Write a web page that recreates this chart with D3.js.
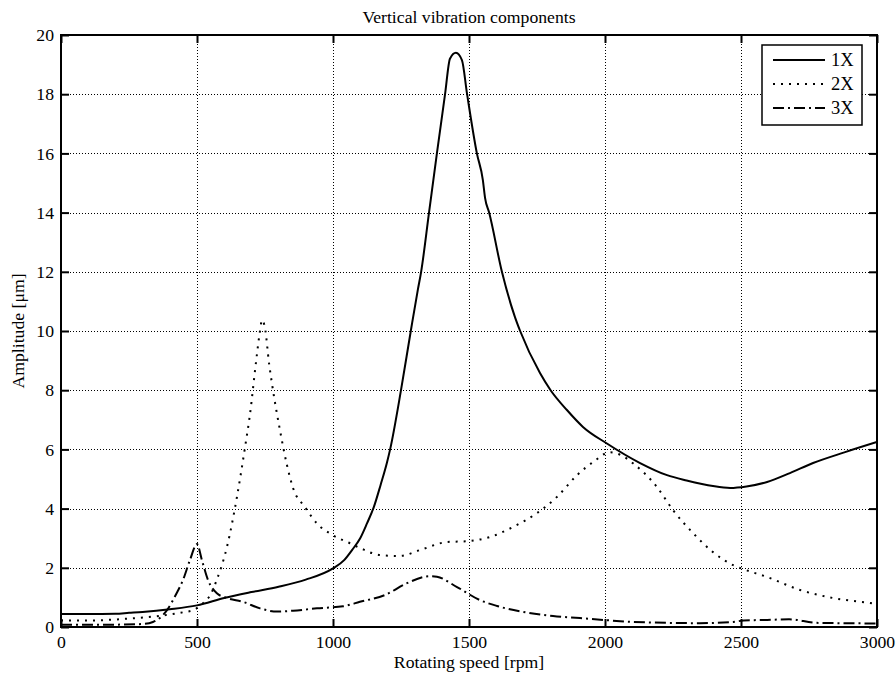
<!DOCTYPE html>
<html>
<head>
<meta charset="utf-8">
<script src="https://cdn.jsdelivr.net/npm/d3@7"></script>
<style>
  html, body { margin: 0; padding: 0; background: #fff; }
  svg { display: block; }
  text { font-family: "Liberation Serif", "Times New Roman", serif; fill: #000; }
</style>
</head>
<body>
<svg id="chart" width="896" height="677"></svg>
<script>
// ---- data ----
const rpm1X = [0,100,200,250,300,400,500,600,700,800,900,1000,1040,1070,1100,1125,1150,1175,1198,1210,1250,1286,1312,1324,1353,1382,1412,1430,1452,1474,1493,1529,1551,1559,1574,1621,1669,1688,1761,1800,1860,1919,2007,2129,2228,2300,2397,2460,2520,2596,2680,2765,2880,3000];
const amp1X = [0.44,0.44,0.45,0.48,0.51,0.6,0.73,0.98,1.18,1.36,1.6,1.98,2.25,2.6,3.0,3.5,4.05,4.8,5.54,6.0,8.0,10.0,11.4,12.0,14.0,16.0,18.0,19.2,19.4,19.15,18.0,16.0,15.1,14.5,14.0,12.0,10.47,10.0,8.58,8.0,7.33,6.76,6.2,5.54,5.13,4.95,4.76,4.7,4.75,4.9,5.2,5.54,5.9,6.25];

const rpm2X = [0,100,242,364,450,486,522,550,573,610,647,677,695,715,730,739,750,765,776,805,830,853,897,941,1000,1062,1099,1173,1246,1320,1419,1496,1577,1662,1750,1824,1897,1956,2018,2060,2103,2191,2250,2324,2397,2471,2507,2596,2717,2838,2985,3000];
const amp2X = [0.22,0.22,0.28,0.38,0.5,0.57,0.8,1.1,1.6,2.7,4.4,6.1,7.2,8.8,9.9,10.37,10.1,8.9,8.2,6.65,5.5,4.7,4.05,3.5,3.1,2.83,2.67,2.43,2.4,2.6,2.87,2.9,3.04,3.38,3.85,4.4,5.13,5.57,5.9,5.8,5.53,4.73,3.95,3.17,2.53,2.09,1.96,1.69,1.25,0.98,0.8,0.78];

const rpm3X = [0,200,300,338,389,425,449,474,500,518,540,573,610,669,732,794,853,941,1037,1099,1191,1272,1357,1382,1456,1540,1603,1699,1809,1908,1993,2103,2349,2471,2510,2596,2677,2779,3000];
const amp3X = [0.08,0.08,0.1,0.17,0.56,1.14,1.6,2.26,2.8,2.26,1.6,1.14,0.98,0.85,0.63,0.52,0.55,0.63,0.7,0.85,1.08,1.48,1.72,1.7,1.35,0.91,0.71,0.51,0.37,0.3,0.24,0.17,0.13,0.17,0.22,0.24,0.26,0.14,0.12];

const seriesNames = ["1X", "2X", "3X"];
const xTicks = [0, 500, 1000, 1500, 2000, 2500, 3000];
const yTicks = [0, 2, 4, 6, 8, 10, 12, 14, 16, 18, 20];
const titleText = "Vertical vibration components";
const xLabel = "Rotating speed [rpm]";
const yLabel = "Amplitude [\u03bcm]";

// ---- layout ----
const mL = 61, mR = 877, mT = 35, mB = 627;
const svg = d3.select("#chart");
const x = d3.scaleLinear().domain([0, 3000]).range([mL, mR]);
const y = d3.scaleLinear().domain([0, 20]).range([mB, mT]);

// grid
const grid = svg.append("g").attr("stroke", "#000").attr("stroke-width", 1)
  .attr("stroke-dasharray", "1,2").attr("fill", "none");
grid.selectAll("line.v").data(xTicks.slice(1, -1)).join("line")
  .attr("x1", d => Math.round(x(d)) + 0.5).attr("x2", d => Math.round(x(d)) + 0.5)
  .attr("y1", mT).attr("y2", mB);
grid.selectAll("line.h").data(yTicks.slice(1, -1)).join("line")
  .attr("y1", d => Math.round(y(d)) + 0.5).attr("y2", d => Math.round(y(d)) + 0.5)
  .attr("x1", mL).attr("x2", mR);

// series
const styles = [
  { dash: null, w: 2 },
  { dash: "2,6", w: 2 },
  { dash: "11,4,2,4", w: 2 }
];
const series = [
  rpm1X.map((r, i) => [r, amp1X[i]]),
  rpm2X.map((r, i) => [r, amp2X[i]]),
  rpm3X.map((r, i) => [r, amp3X[i]])
];
const line = d3.line().x(d => x(d[0])).y(d => y(d[1])).curve(d3.curveMonotoneX);
svg.append("clipPath").attr("id", "clip").append("rect")
  .attr("x", mL).attr("y", mT).attr("width", mR - mL).attr("height", mB - mT);
const plot = svg.append("g").attr("clip-path", "url(#clip)");
series.forEach((s, i) => {
  plot.append("path").datum(s).attr("d", line).attr("fill", "none")
    .attr("stroke", "#000").attr("stroke-width", styles[i].w)
    .attr("stroke-dasharray", styles[i].dash)
    .attr("stroke-linejoin", "round");
});

// axes (ticks inward on all sides)
const fs = 17.7;
const axB = svg.append("g").attr("transform", `translate(0,${mB})`)
  .call(d3.axisBottom(x).tickValues(xTicks).tickSize(-8).tickSizeOuter(0).tickPadding(8).tickFormat(d3.format("d")));
const axL = svg.append("g").attr("transform", `translate(${mL},0)`)
  .call(d3.axisLeft(y).tickValues(yTicks).tickSize(-8).tickSizeOuter(0).tickPadding(7).tickFormat(d3.format("d")));
const axT = svg.append("g").attr("transform", `translate(0,${mT})`)
  .call(d3.axisTop(x).tickValues(xTicks).tickSize(-8).tickSizeOuter(0).tickFormat(""));
const axR = svg.append("g").attr("transform", `translate(${mR},0)`)
  .call(d3.axisRight(y).tickValues(yTicks).tickSize(-8).tickSizeOuter(0).tickFormat(""));
[axB, axL, axT, axR].forEach(a => {
  a.select(".domain").remove();
  a.attr("font-family", null);
  a.selectAll(".tick line").attr("stroke", "#000").attr("stroke-width", 2);
  a.selectAll("text").attr("font-family", "Liberation Serif").attr("font-size", fs).attr("fill", "#000");
});

// frame
svg.append("rect").attr("x", mL).attr("y", mT).attr("width", mR - mL).attr("height", mB - mT)
  .attr("fill", "none").attr("stroke", "#000").attr("stroke-width", 2);

// titles
svg.append("text").attr("x", (mL + mR) / 2).attr("y", 23).attr("text-anchor", "middle")
  .attr("font-size", fs).text(titleText);
svg.append("text").attr("x", (mL + mR) / 2).attr("y", 668).attr("text-anchor", "middle")
  .attr("font-size", fs).text(xLabel);
svg.append("text").attr("transform", `translate(24,${(mT + mB) / 2}) rotate(-90)`)
  .attr("text-anchor", "middle").attr("font-size", fs).text(yLabel);

// legend
const lg = svg.append("g");
lg.append("rect").attr("x", 762).attr("y", 45).attr("width", 100).attr("height", 80)
  .attr("fill", "#fff").attr("stroke", "#000").attr("stroke-width", 1.5);
const rowY = [60, 84, 108];
seriesNames.forEach((n, i) => {
  lg.append("line").attr("x1", 773).attr("x2", 825).attr("y1", rowY[i]).attr("y2", rowY[i])
    .attr("stroke", "#000").attr("stroke-width", styles[i].w).attr("stroke-dasharray", styles[i].dash);
  lg.append("text").attr("x", 831).attr("y", rowY[i]).attr("dy", "0.34em")
    .attr("font-size", 18.5).text(n);
});
</script>
</body>
</html>
